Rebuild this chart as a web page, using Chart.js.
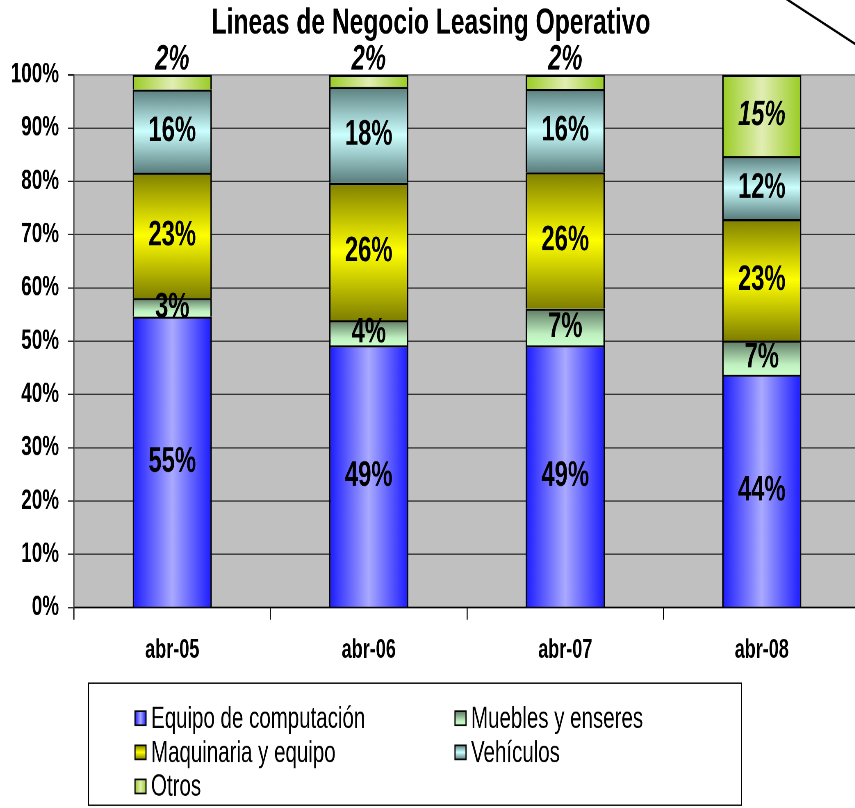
<!DOCTYPE html>
<html><head><meta charset="utf-8">
<script src="https://cdn.jsdelivr.net/npm/chart.js@4.4.1/dist/chart.umd.min.js"></script>
<style>
html,body{margin:0;padding:0;background:#fff;overflow:hidden;width:855px;height:808px;}
#wrap{position:absolute;left:0;top:0;width:1056px;height:662px;transform:scale(0.82,1.2205);transform-origin:0 0;}
canvas{display:block;}
</style></head><body>
<div id="wrap"><canvas id="c" width="1056" height="662" style="width:1056px;height:662px"></canvas></div>
<script>
// ---- data (percent of total) ----
const categories = ['abr-05', 'abr-06', 'abr-07', 'abr-08'];
const seriesNames = ['Equipo de computación', 'Muebles y enseres', 'Maquinaria y equipo', 'Vehículos', 'Otros'];
const equipo     = [54.6, 49.2, 49.2, 43.7];
const muebles    = [3.5, 4.7, 6.9, 6.4];
const maquinaria = [23.5, 25.8, 25.6, 22.8];
const vehiculos  = [15.6, 18.0, 15.6, 11.8];
const otros      = [2.8, 2.3, 2.7, 15.3];
// labels printed on the segments
const equipoLbl     = ['55%', '49%', '49%', '44%'];
const mueblesLbl    = ['3%', '4%', '7%', '7%'];
const maquinariaLbl = ['23%', '26%', '26%', '23%'];
const vehiculosLbl  = ['16%', '18%', '16%', '12%'];
const otrosLbl      = ['2%', '2%', '2%', '15%'];
const yTickLabels = ['0%', '10%', '20%', '30%', '40%', '50%', '60%', '70%', '80%', '90%', '100%'];
const titleText = 'Lineas de Negocio Leasing Operativo';

const series = [equipo, muebles, maquinaria, vehiculos, otros];
const segLabels = [equipoLbl, mueblesLbl, maquinariaLbl, vehiculosLbl, otrosLbl];

// the canvas is drawn in a coordinate space that CSS squeezes horizontally (narrow type look)
const SX = 0.82;
const X = (v) => v / SX;
const CANVAS_W = 1056;
const FONT = "'Liberation Sans', Arial, sans-serif";
const BAR_PCT = 0.403;

const styles = [
  {dir: 'h', solid: '#8080ff', stops: [[0, '#1a1aff'], [0.5, '#aaaaff'], [1, '#1a1aff']]},
  {dir: 'v', solid: '#a0d0a0', stops: [[0, '#5e7a64'], [0.7, '#c0f0c0'], [1, '#ccffcc']]},
  {dir: 'v', solid: '#ffff00', stops: [[0, '#7f7f00'], [0.5, '#ffff00'], [1, '#7f7f00']]},
  {dir: 'v', solid: '#ccffff', stops: [[0, '#5a7e7e'], [0.5, '#ccffff'], [1, '#5a7e7e']]},
  {dir: 'h', solid: '#d0e890', stops: [[0, '#99cc22'], [0.5, '#e2eeb4'], [1, '#99cc22']]}
];

function fillFor(si) {
  return (ctx) => {
    const chart = ctx.chart, xs = chart.scales.x, ys = chart.scales.y;
    const st = styles[si];
    if (ctx.type !== 'data' || !xs || !ys || !isFinite(xs.left) || !isFinite(ys.top)) return st.solid;
    const i = ctx.dataIndex;
    const c = chart.ctx;
    let g;
    if (st.dir === 'h') {
      const cx = xs.getPixelForValue(i);
      const w = (xs.right - xs.left) / categories.length * BAR_PCT;
      g = c.createLinearGradient(cx - w / 2, 0, cx + w / 2, 0);
    } else {
      let lo = 0;
      for (let k = 0; k < si; k++) lo += series[k][i];
      const hi = lo + series[si][i];
      g = c.createLinearGradient(0, ys.getPixelForValue(hi), 0, ys.getPixelForValue(lo));
    }
    st.stops.forEach(([o, col]) => g.addColorStop(o, col));
    return g;
  };
}

const bgPlugin = {
  id: 'plotBg',
  beforeDraw(chart) {
    const {ctx, chartArea: a} = chart;
    ctx.save();
    ctx.fillStyle = '#c0c0c0';
    ctx.fillRect(a.left, a.top, a.right - a.left, a.bottom - a.top);
    ctx.restore();
  }
};

const labelPlugin = {
  id: 'segLabels',
  afterDatasetsDraw(chart) {
    const c = chart.ctx;
    c.save();
    c.fillStyle = '#000';
    c.textAlign = 'center';
    c.textBaseline = 'middle';
    chart.data.datasets.forEach((ds, di) => {
      const meta = chart.getDatasetMeta(di);
      meta.data.forEach((el, i) => {
        c.font = (di === 4 ? 'italic ' : '') + 'bold 29px ' + FONT;
        let y = (el.y + el.base) / 2;
        if (series[di][i] < 3) y = el.y - 12;
        c.fillText(segLabels[di][i], el.x, y);
      });
    });
    c.restore();
  }
};

const decoPlugin = {
  id: 'deco',
  afterDraw(chart) {
    const c = chart.ctx;
    c.save();
    // title
    c.fillStyle = '#000';
    c.textAlign = 'center';
    c.textBaseline = 'middle';
    c.font = 'bold 30px ' + FONT;
    c.fillText(titleText, X(431), 19);
    // diagonal stroke in the top right corner
    c.strokeStyle = '#000';
    c.lineWidth = 2;
    c.beginPath();
    c.moveTo(X(786), -1);
    c.lineTo(X(866), 41.8);
    c.stroke();
    // legend
    const box = {l: X(88.5), t: 559.8, r: X(741.5), b: 659.8};
    c.lineWidth = 1.2;
    c.strokeStyle = '#000';
    c.fillStyle = '#fff';
    c.fillRect(box.l, box.t, box.r - box.l, box.b - box.t);
    c.strokeRect(box.l, box.t, box.r - box.l, box.b - box.t);
    const cols = [X(135), X(455)];
    const rows = [588.5, 616.4, 644.3];
    c.font = '25px ' + FONT;
    c.textAlign = 'left';
    seriesNames.forEach((name, k) => {
      const x = cols[k % 2], y = rows[Math.floor(k / 2)];
      const sw = X(11), sh = 11.5;
      const st = styles[k];
      let g;
      if (st.dir === 'h') g = c.createLinearGradient(x, 0, x + sw, 0);
      else g = c.createLinearGradient(0, y - sh / 2, 0, y + sh / 2);
      st.stops.forEach(([o, col]) => g.addColorStop(o, col));
      c.fillStyle = g;
      c.fillRect(x, y - sh / 2, sw, sh);
      c.lineWidth = 1.4;
      c.strokeStyle = '#000';
      c.strokeRect(x, y - sh / 2, sw, sh);
      c.fillStyle = '#000';
      c.fillText(name, x + X(16), y + 1);
    });
    c.restore();
  }
};

const chart = new Chart(document.getElementById('c'), {
  type: 'bar',
  data: {
    labels: categories,
    datasets: series.map((vals, si) => ({
      label: seriesNames[si],
      data: vals,
      backgroundColor: fillFor(si),
      borderColor: '#000',
      borderWidth: 1.8,
      borderSkipped: 'start',
      barPercentage: BAR_PCT,
      categoryPercentage: 1
    }))
  },
  options: {
    responsive: false,
    devicePixelRatio: 2,
    animation: false,
    events: [],
    layout: {padding: {left: 0, right: CANVAS_W - X(860), top: 61.2, bottom: 104.2}},
    plugins: {legend: {display: false}, title: {display: false}, tooltip: {enabled: false}},
    scales: {
      x: {
        stacked: true,
        grid: {display: true, drawOnChartArea: false, drawTicks: true, tickLength: 10, color: '#000', lineWidth: 1.3, offset: true},
        border: {display: true, color: '#000', width: 1.2},
        ticks: {color: '#000', font: {family: FONT, size: 22, weight: 'bold'}, padding: 12, maxRotation: 0},
        afterFit(s) { s.height = 60; }
      },
      y: {
        stacked: true,
        min: 0, max: 100,
        grid: {
          color: (ctx) => (ctx.tick && ctx.tick.value === 100 ? '#8c8c8c' : '#333'),
          tickColor: '#222',
          lineWidth: (ctx) => (ctx.tick && ctx.tick.value === 100 ? 1.6 : 1),
          tickLength: X(6),
          drawTicks: true
        },
        border: {display: true, color: '#333', width: 1.3},
        ticks: {
          stepSize: 10,
          color: '#000',
          padding: X(9),
          font: {family: FONT, size: 23, weight: 'bold'},
          callback: (v, idx) => yTickLabels[idx]
        },
        afterFit(s) { s.width = X(74); }
      }
    }
  },
  plugins: [bgPlugin, labelPlugin, decoPlugin]
});
</script>
</body></html>
